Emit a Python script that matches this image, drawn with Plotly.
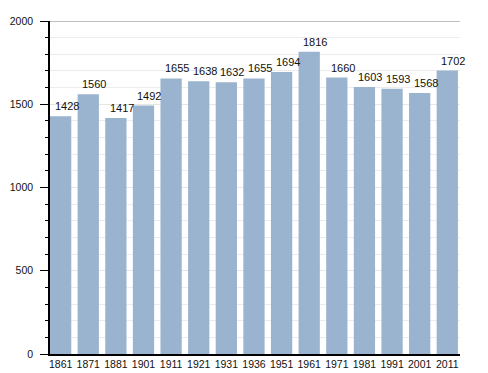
import plotly.graph_objects as go

years = ["1861", "1871", "1881", "1901", "1911", "1921", "1931", "1936",
         "1951", "1961", "1971", "1981", "1991", "2001", "2011"]
population = [1428, 1560, 1417, 1492, 1655, 1638, 1632, 1655,
              1694, 1816, 1660, 1603, 1593, 1568, 1702]

fig = go.Figure()
fig.add_trace(go.Bar(
    x=years, y=population,
    marker=dict(color="#9ab3cf", line=dict(width=0)),
    hoverinfo="skip",
))

for i, v in enumerate(population):
    fig.add_annotation(x=i, y=v, text=str(v), showarrow=False,
                       xanchor="center", yanchor="bottom",
                       xshift=6, yshift=2,
                       font=dict(size=11, color="#111"))

fig.update_layout(
    width=488, height=373,
    margin=dict(l=50, r=28, t=21, b=19, autoexpand=False),
    paper_bgcolor="white", plot_bgcolor="white",
    font=dict(family="Liberation Sans, Arial, sans-serif", size=11, color="#111"),
    bargap=0.23,
    showlegend=False,
    xaxis=dict(
        type="category",
        range=[-0.385, 14.46],
        automargin=False,
        showline=True, linecolor="black", linewidth=1.5,
        ticks="", showgrid=False,
        tickfont=dict(size=10.5),
    ),
    yaxis=dict(
        range=[0, 2000],
        automargin=False,
        tickvals=[0, 500, 1000, 1500, 2000],
        showline=True, linecolor="black", linewidth=1.5,
        ticks="outside", ticklen=8, tickcolor="black",
        ticklabelstandoff=5,
        showgrid=True, gridcolor="#e6e6e6", gridwidth=1,
        minor=dict(dtick=100, ticks="outside", ticklen=3, tickcolor="black",
                   showgrid=True, gridcolor="#ececec"),
        zeroline=False,
        tickfont=dict(size=10.5),
    ),
)
fig.add_shape(type="line", xref="paper", yref="y", x0=0, x1=1, y0=2000, y1=2000,
              line=dict(color="#aaaaaa", width=1.5))

fig.write_html("out.html", config={"displayModeBar": False},
               post_script="document.body.style.margin='0';")
